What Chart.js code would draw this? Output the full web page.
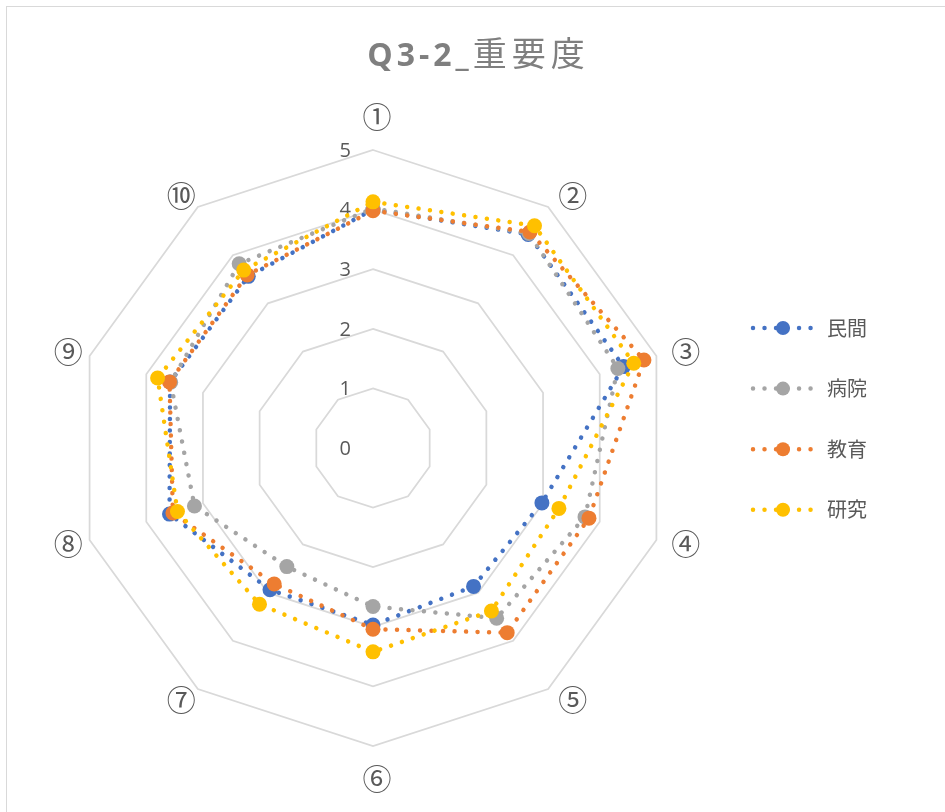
<!DOCTYPE html>
<html lang="ja">
<head>
<meta charset="utf-8">
<title>Q3-2_重要度</title>
<script src="https://cdn.jsdelivr.net/npm/chart.js@4.4.0/dist/chart.umd.min.js"></script>
<style>
  html, body { margin: 0; padding: 0; background: #ffffff; }
  #wrap { position: relative; width: 945px; height: 812px; overflow: hidden; background: #ffffff; }
  #frame { position: absolute; left: 6px; top: 6px; width: 1100px; height: 1100px;
           border: 1.5px solid #d9d9d9; box-sizing: border-box; pointer-events: none; }
  #title { position: absolute; left: 6px; top: 27px; width: 945px; text-align: center;
           font-size: 32px; line-height: 50px; color: #7f7f7f; letter-spacing: 4px; white-space: nowrap; }
  #title .latin { font-family: "Open Sans", "Noto Sans", sans-serif; font-weight: 700; }
  #title .cjk { font-family: "Noto Sans CJK JP", sans-serif; font-weight: 400; font-size: 34px; letter-spacing: 5px; }
  #chart { position: absolute; left: 0; top: 0; }
</style>
</head>
<body>
<div id="wrap">
  <canvas id="chart" width="945" height="812"></canvas>
  <div id="frame"></div>
  <div id="title"><span class="latin">Q3-2_</span><span class="cjk">重要度</span></div>
</div>
<script>
// Axis categories (items ① – ⑩)
const categories = ['①', '②', '③', '④', '⑤', '⑥', '⑦', '⑧', '⑨', '⑩'];

// Series names
const seriesNames = ['民間', '病院', '教育', '研究'];

// Mean importance score per item, by respondent group
const minkan = [4.00, 4.43, 4.42, 2.98, 2.87, 2.97, 2.94, 3.59, 3.58, 3.56];
const byoin  = [4.02, 4.45, 4.32, 3.74, 3.53, 2.66, 2.46, 3.15, 3.57, 3.82];
const kyoiku = [3.98, 4.48, 4.78, 3.81, 3.83, 3.04, 2.82, 3.53, 3.59, 3.59];
const kenkyu = [4.13, 4.61, 4.60, 3.28, 3.38, 3.42, 3.24, 3.45, 3.80, 3.69];

// Radial axis range
const axisMin = 0;
const axisMax = 5;
const axisStep = 1;

const seriesValues = [minkan, byoin, kyoiku, kenkyu];
const seriesColors = ['#4472C4', '#A5A5A5', '#ED7D31', '#FFC000'];

const DOT_DASH = [0.01, 11.5];
const LINE_W = 4.5;
const MARK_R = 7.5;

const datasets = seriesNames.map((name, i) => ({
  label: name,
  data: seriesValues[i],
  borderColor: seriesColors[i],
  backgroundColor: 'rgba(0,0,0,0)',
  fill: false,
  borderWidth: LINE_W,
  borderDash: DOT_DASH,
  borderCapStyle: 'round',
  borderJoinStyle: 'round',
  pointRadius: MARK_R,
  pointHoverRadius: MARK_R,
  pointBackgroundColor: seriesColors[i],
  pointBorderColor: seriesColors[i],
  pointBorderWidth: 0,
  tension: 0,
  // later series sit on top
  order: seriesNames.length - 1 - i
}));

// Plot geometry inside the canvas
const PLOT = { cx: 373, cy: 448, radius: 298 };

// Tick numbers and the circled item labels around the web
const axisText = {
  id: 'axisText',
  beforeDatasetsDraw(chart) {
    const s = chart.scales.r;
    const ctx = chart.ctx;
    ctx.save();
    ctx.fillStyle = '#595959';
    ctx.font = '20px "Open Sans", "Noto Sans", sans-serif';
    ctx.textAlign = 'right';
    ctx.textBaseline = 'middle';
    s.ticks.forEach(t => {
      const d = s.getDistanceFromCenterForValue(t.value);
      ctx.fillText(String(t.value), s.xCenter - 22, s.yCenter - d + 1);
    });

    ctx.font = '29px "Noto Sans CJK JP", sans-serif';
    ctx.textAlign = 'center';
    ctx.textBaseline = 'middle';
    chart.data.labels.forEach((lab, i) => {
      const p = s.getPointPosition(i, s.drawingArea + 13);
      const c = Math.cos(p.angle), sn = Math.sin(p.angle);
      let x = p.x + 4, y = p.y;
      if (Math.abs(c) < 1e-6) y += Math.sign(sn) * 20;
      else x += Math.sign(c) * 13;
      ctx.fillText(lab, x, y);
    });
    ctx.restore();
  }
};

// Legend on the right: dotted line sample with a marker, then the name
const sideLegend = {
  id: 'sideLegend',
  afterDraw(chart) {
    const ctx = chart.ctx;
    const x0 = 753, x1 = 813, xm = 783, xt = 827, top = 328, gap = 60.6;
    ctx.save();
    chart.data.datasets.forEach((ds, i) => {
      const y = top + i * gap;
      ctx.strokeStyle = ds.borderColor;
      ctx.lineWidth = ds.borderWidth;
      ctx.lineCap = 'round';
      ctx.setLineDash(ds.borderDash);
      ctx.beginPath();
      ctx.moveTo(x0, y);
      ctx.lineTo(x1, y);
      ctx.stroke();
      ctx.setLineDash([]);
      ctx.fillStyle = ds.pointBackgroundColor;
      ctx.beginPath();
      ctx.arc(xm, y, 7, 0, Math.PI * 2);
      ctx.fill();
      ctx.fillStyle = '#595959';
      ctx.font = '20px "Noto Sans CJK JP", sans-serif';
      ctx.textAlign = 'left';
      ctx.textBaseline = 'middle';
      ctx.fillText(ds.label, xt, y);
    });
    ctx.restore();
  }
};

new Chart(document.getElementById('chart'), {
  type: 'radar',
  data: { labels: categories, datasets },
  options: {
    responsive: false,
    animation: false,
    devicePixelRatio: 1,
    events: [],
    plugins: {
      legend: { display: false },
      title: { display: false },
      tooltip: { enabled: false }
    },
    elements: { line: { tension: 0 } },
    scales: {
      r: {
        min: axisMin,
        max: axisMax,
        beginAtZero: true,
        ticks: { stepSize: axisStep, display: false },
        pointLabels: { display: false },
        angleLines: { display: false },
        grid: { circular: false, color: '#d9d9d9', lineWidth: 1.75 },
        afterFit(scale) {
          scale.xCenter = PLOT.cx;
          scale.yCenter = PLOT.cy;
          scale.drawingArea = PLOT.radius;
        }
      }
    }
  },
  plugins: [axisText, sideLegend]
});
</script>
</body>
</html>
